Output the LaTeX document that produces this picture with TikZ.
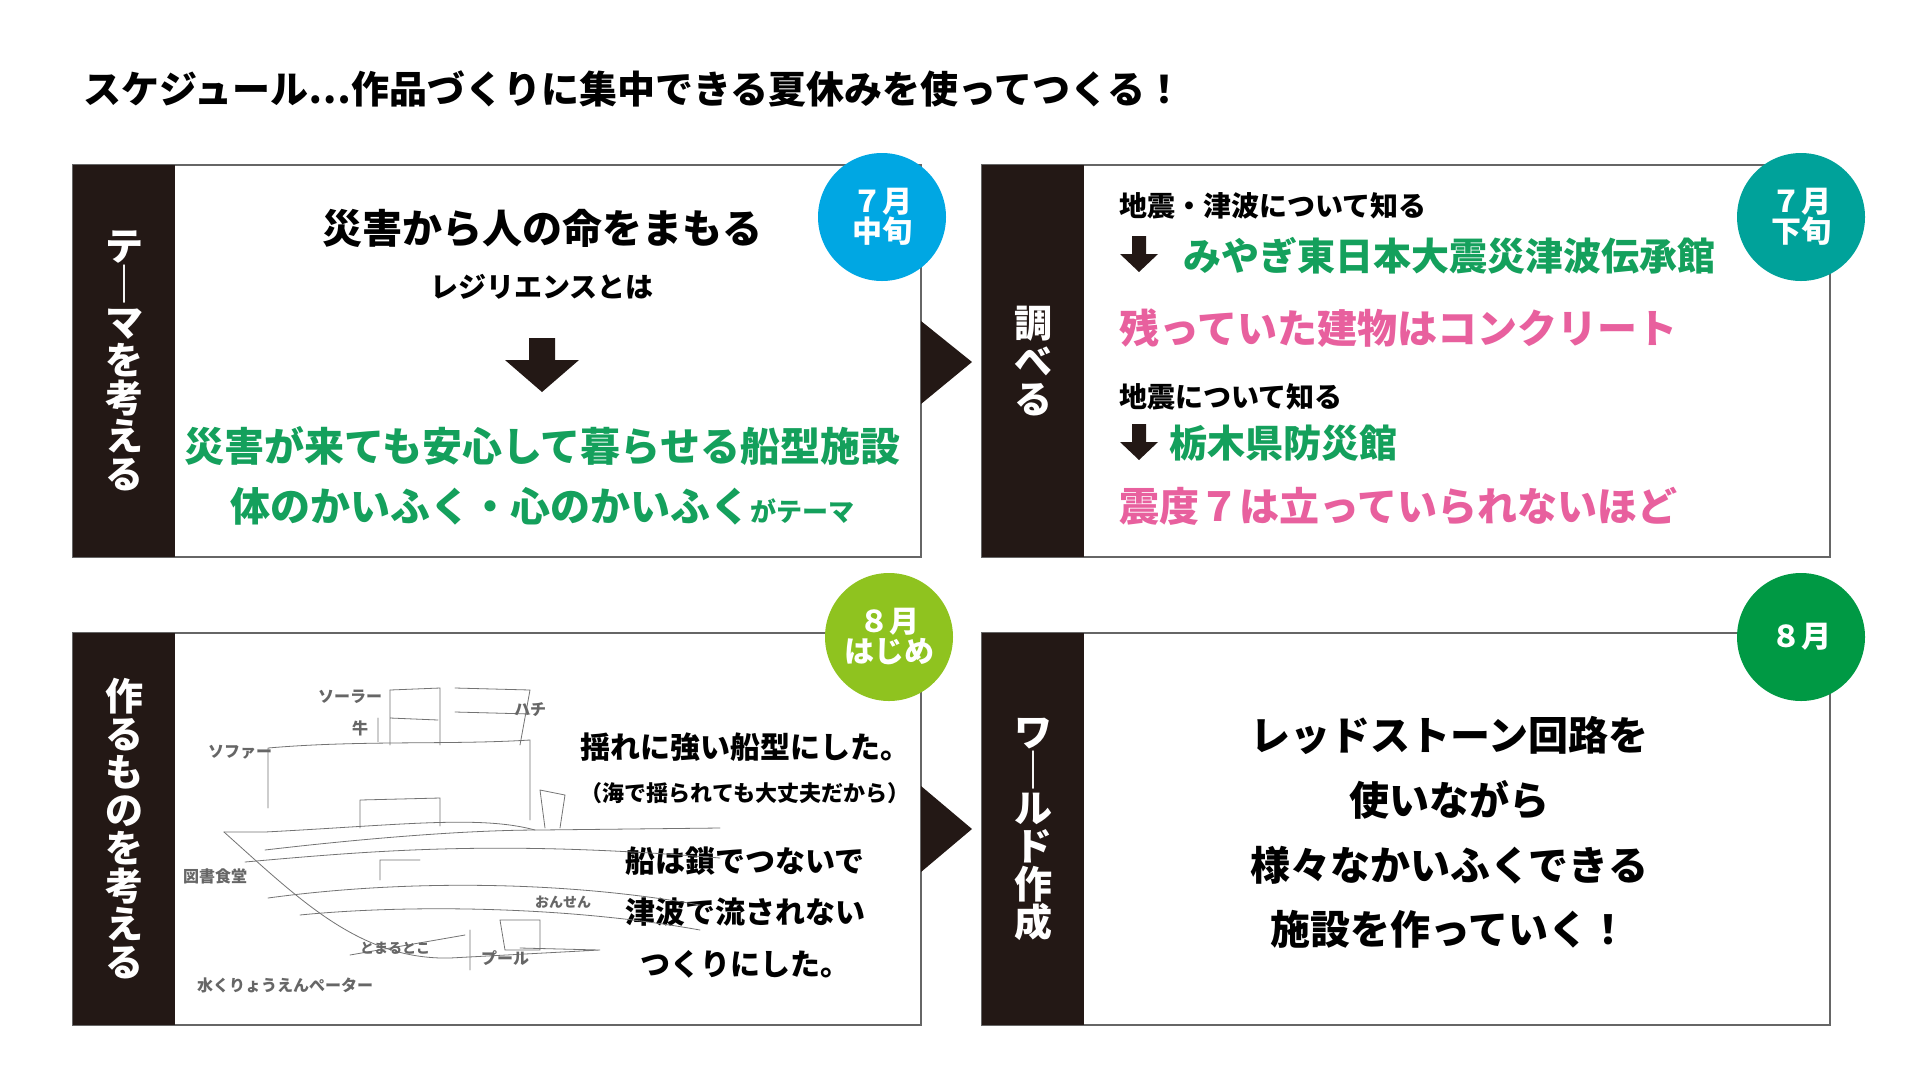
\documentclass[tikz,border=0pt]{standalone}
\usepackage{fontspec}
\setmainfont{Noto Sans CJK JP}
\usetikzlibrary{positioning}
\definecolor{barcol}{HTML}{231815}
\definecolor{txtgreen}{HTML}{14A05C}
\definecolor{txtpink}{HTML}{E8609E}
\definecolor{cblue}{HTML}{00A7E3}
\definecolor{cteal}{HTML}{00A29A}
\definecolor{clime}{HTML}{8FC31F}
\definecolor{cgreen}{HTML}{009944}
\newcommand{\fs}[1]{\fontsize{#1}{#1}\selectfont\bfseries}
\tikzset{
  panel/.style={draw=black!60, line width=1.2pt, fill=white},
  bar/.style={fill=barcol},
  badge/.style={circle, minimum size=128pt, inner sep=0pt, text=white, align=center, font=\fs{30}},
  vlabel/.style={text=white, align=center, font=\fs{38}, inner sep=0pt},
  sketch/.style={draw=black!55, line width=0.8pt, line cap=round}
}
\begin{document}
\begin{tikzpicture}[x=1pt,y=-1pt]
\useasboundingbox (0,0) rectangle (1920,1080);
\node[anchor=west, font=\fs{38}] (title) at (80,89) {スケジュール…作品づくりに集中できる夏休みを使ってつくる！};

%panels
\draw[panel] (73,165) rectangle (921,557);
\fill[bar] (73,165) rectangle (175,557);
\draw[panel] (982,165) rectangle (1830,557);
\fill[bar] (982,165) rectangle (1084,557);
\draw[panel] (73,633) rectangle (921,1025);
\fill[bar] (73,633) rectangle (175,1025);
\draw[panel] (982,633) rectangle (1830,1025);
\fill[bar] (982,633) rectangle (1084,1025);

%arrows between
\fill[barcol] (921,321) -- (972,362) -- (921,404) -- cycle;
\fill[barcol] (921,786) -- (972,829) -- (921,872) -- cycle;

%vertical labels
\node[vlabel] (v1) at (124,361) {テ\\｜\\マ\\を\\考\\え\\る};
\node[vlabel] (v2) at (1033,361) {調\\べ\\る};
\node[vlabel] (v3) at (124,829) {作\\る\\も\\の\\を\\考\\え\\る};
\node[vlabel] (v4) at (1033,829) {ワ\\｜\\ル\\ド\\作\\成};

%badges
\node[badge, fill=cblue] (b1) at (882,217) {７月\\中旬};
\node[badge, fill=cteal] (b2) at (1801,217) {７月\\下旬};
\node[badge, fill=clime] (b3) at (889,637) {８月\\はじめ};
\node[badge, fill=cgreen] (b4) at (1801,637) {８月};

%panel 1
\node[font=\fs{40}] (t1) at (542,228) {災害から人の命をまもる};
\node[font=\fs{28}] (t2) at (542,287) {レジリエンスとは};
\fill[barcol] (529,338) rectangle (555,360) (505,360) -- (579,360) -- (542,392) -- cycle;
\node[font=\fs{40}, text=txtgreen] (t3) at (542,446) {災害が来ても安心して暮らせる船型施設};
\node[font=\fs{40}, text=txtgreen] (t4) at (542,506) {体のかいふく・心のかいふく{\fs{26}がテーマ}};

%panel 2
\node[anchor=west, font=\fs{28}] (s1) at (1116,206) {地震・津波について知る};
\fill[barcol] (1132,236) rectangle (1146,254) (1120,254) -- (1158,254) -- (1139,272) -- cycle;
\node[anchor=west, font=\fs{38}, text=txtgreen] (s2) at (1180,256) {みやぎ東日本大震災津波伝承館};
\node[anchor=west, font=\fs{40}, text=txtpink] (s3) at (1116,328) {残っていた建物はコンクリート};
\node[anchor=west, font=\fs{28}] (s4) at (1116,397) {地震について知る};
\fill[barcol] (1132,424) rectangle (1146,442) (1120,442) -- (1158,442) -- (1139,460) -- cycle;
\node[anchor=west, font=\fs{38}, text=txtgreen] (s5) at (1166,443) {栃木県防災館};
\node[anchor=west, font=\fs{40}, text=txtpink] (s6) at (1116,506) {震度７は立っていられないほど};

%panel 3 text
\node[font=\fs{30}] (u1) at (745,747) {揺れに強い船型にした。};
\node[font=\fs{22}] (u2) at (745,793) {（海で揺られても大丈夫だから）};
\node[font=\fs{30}] (u3) at (745,861) {船は鎖でつないで};
\node[font=\fs{30}] (u4) at (745,912) {津波で流されない};
\node[font=\fs{30}] (u5) at (745,964) {つくりにした。};

%sketch
\draw[sketch] (224,832) .. controls (300,900) and (360,960) .. (450,958) -- (600,950) -- (520,948);
\draw[sketch] (224,832) -- (265,832) .. controls (400,825) and (480,815) .. (535,830);
\draw[sketch] (265,850) .. controls (350,840) and (460,830) .. (540,830) -- (720,828);
\draw[sketch] (245,862) .. controls (380,850) and (500,840) .. (720,858);
\draw[sketch] (268,898) .. controls (400,880) and (560,880) .. (700,905);
\draw[sketch] (300,915) .. controls (400,905) and (560,905) .. (700,930);
\draw[sketch] (268,748) -- (268,808) (268,748) .. controls (360,740) and (450,745) .. (530,740) -- (530,820);
\draw[sketch] (378,718) -- (378,742) (390,690) -- (440,688) -- (440,745) (455,688) -- (530,690) -- (520,745);
\draw[sketch] (390,718) -- (438,720) (455,712) -- (530,714) (390,690) -- (390,745);
\draw[sketch] (360,800) -- (440,798) -- (440,826) (360,800) -- (360,828);
\draw[sketch] (545,828) -- (540,790) -- (565,795) -- (560,828);
\draw[sketch] (420,860) -- (380,860) -- (380,880) (470,930) -- (470,970) (350,955) -- (465,935);
\draw[sketch] (500,920) -- (505,950) -- (540,950) -- (540,920) -- cycle;
\node[font=\fs{16}, text=black!60] (k1) at (350,697) {ソーラー};
\node[font=\fs{16}, text=black!60] (k2) at (360,728) {牛};
\node[font=\fs{16}, text=black!60] (k3) at (240,752) {ソファー};
\node[font=\fs{16}, text=black!60] (k4) at (215,876) {図書食堂};
\node[font=\fs{16}, text=black!60] (k5) at (285,985) {水くりょうえんぺーター};
\node[font=\fs{14}, text=black!60] (k6) at (395,948) {とまるとこ};
\node[font=\fs{16}, text=black!60] (k7) at (505,958) {プール};
\node[font=\fs{14}, text=black!60] (k8) at (563,902) {おんせん};
\node[font=\fs{16}, text=black!60] (k9) at (530,710) {ハチ};

%panel 4
\node[font=\fs{40}] (w1) at (1449,735) {レッドストーン回路を};
\node[font=\fs{40}] (w2) at (1449,800) {使いながら};
\node[font=\fs{40}] (w3) at (1449,865) {様々なかいふくできる};
\node[font=\fs{40}] (w4) at (1449,929) {施設を作っていく！};
\end{tikzpicture}
\end{document}
